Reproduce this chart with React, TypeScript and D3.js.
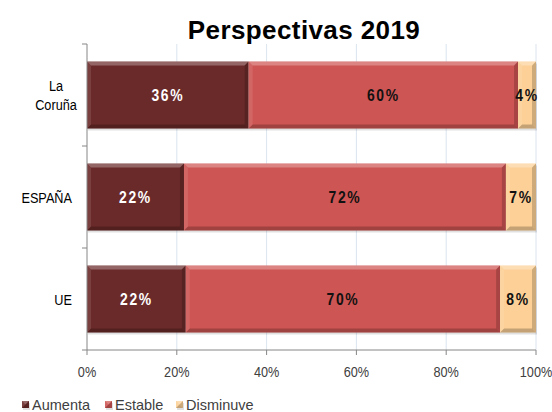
import React from "react";
import * as d3 from "d3";

// categories and series (shares of answers)
const categories = ["La Coruña", "ESPAÑA", "UE"];
const seriesNames = ["Aumenta", "Estable", "Disminuve"];
const aumenta = [0.36, 0.216, 0.22];
const estable = [0.6, 0.717, 0.7];
const disminuve = [0.04, 0.067, 0.08];
const xTicks = [0, 0.2, 0.4, 0.6, 0.8, 1];

const colors = ["#6b2a2a", "#cd5553", "#fcd096"];
const labelColors = ["#ffffff", "#111111", "#111111"];

const W = 552;
const H = 412;
const margin = { top: 44, right: 16, bottom: 62, left: 87 };
const sans = "'Liberation Sans', Arial, sans-serif";

// no narrow font installed, so squeeze Liberation Sans horizontally
const Narrow = ({ x, y, children, ...rest }: any) => (
  <text transform={`translate(${x},${y}) scale(0.82,1)`} fontFamily={sans} {...rest}>
    {children}
  </text>
);

const Bevel = ({ x, y, w, h, fill }: { x: number; y: number; w: number; h: number; fill: string }) => {
  const b = Math.min(4, w / 2);
  const pts = (a: number[][]) => a.map((p) => p.join(",")).join(" ");
  return (
    <g>
      <rect x={x + 1} y={y + 2} width={w} height={h} fill="#000" opacity={0.12} />
      <rect x={x} y={y} width={w} height={h} fill={fill} />
      <polygon points={pts([[x, y], [x + w, y], [x + w - b, y + b], [x + b, y + b]])} fill="#fff" opacity={0.28} />
      <polygon points={pts([[x, y + h], [x + w, y + h], [x + w - b, y + h - b], [x + b, y + h - b]])} fill="#000" opacity={0.22} />
      <polygon points={pts([[x, y], [x + b, y + b], [x + b, y + h - b], [x, y + h]])} fill="#fff" opacity={0.1} />
      <polygon points={pts([[x + w, y], [x + w - b, y + b], [x + w - b, y + h - b], [x + w, y + h]])} fill="#000" opacity={0.18} />
    </g>
  );
};

export default function App() {
  const innerW = W - margin.left - margin.right;
  const innerH = H - margin.top - margin.bottom;

  const x = d3.scaleLinear().domain([0, 1]).range([margin.left, margin.left + innerW]);
  const y = d3
    .scaleBand()
    .domain(categories)
    .range([margin.top, margin.top + innerH])
    .paddingInner(0.343)
    .paddingOuter(0.1715);

  const rows = categories.map((c, i) => ({
    category: c,
    Aumenta: aumenta[i],
    Estable: estable[i],
    Disminuve: disminuve[i],
  }));
  const stacked = d3.stack<any>().keys(seriesNames)(rows);
  const pct = d3.format(".0%");

  const bottom = margin.top + innerH;
  const step = y.step();
  const boundaries = d3.range(categories.length + 1).map((i) => margin.top + i * step);

  return (
    <svg width={W} height={H} style={{ position: "absolute", left: 0, top: 0, background: "#fff" }}>
      <text x={304} y={39} textAnchor="middle" fontFamily={sans} fontWeight="bold" fontSize={26} fill="#000" letterSpacing={0.4}>
        Perspectivas 2019
      </text>

      {/* gridlines */}
      {xTicks.slice(1).map((t) => (
        <line key={t} x1={x(t)} x2={x(t)} y1={margin.top} y2={bottom} stroke="#dbe4ef" strokeWidth={1} />
      ))}

      {/* bars */}
      {stacked.map((s, si) =>
        s.map((d, i) => (
          <Bevel
            key={si + "-" + i}
            x={x(d[0])}
            y={y(categories[i])!}
            w={x(d[1]) - x(d[0])}
            h={y.bandwidth()}
            fill={colors[si]}
          />
        ))
      )}

      {/* value labels */}
      {stacked.map((s, si) =>
        s.map((d, i) => (
          <Narrow
            key={"l" + si + "-" + i}
            x={(x(d[0]) + x(d[1])) / 2}
            y={y(categories[i])! + y.bandwidth() / 2}
            dy="0.36em"
            textAnchor="middle"
            fontWeight="bold"
            fontSize={17}
            letterSpacing={2}
            fill={labelColors[si]}
          >
            {pct(d[1] - d[0])}
          </Narrow>
        ))
      )}

      {/* axes */}
      <line x1={margin.left} x2={margin.left} y1={margin.top} y2={bottom} stroke="#868686" />
      {boundaries.map((b) => (
        <line key={b} x1={margin.left - 5} x2={margin.left} y1={b} y2={b} stroke="#868686" />
      ))}
      <line x1={margin.left} x2={x(1)} y1={bottom} y2={bottom} stroke="#868686" />
      {xTicks.map((t) => (
        <g key={"t" + t}>
          <line x1={x(t)} x2={x(t)} y1={bottom} y2={bottom + 5} stroke="#868686" />
          <Narrow x={x(t)} y={bottom + 27} textAnchor="middle" fontSize={15.5} fill="#404040">
            {pct(t)}
          </Narrow>
        </g>
      ))}

      {/* category labels */}
      {categories.map((c) => {
        const cy = y(c)! + y.bandwidth() / 2;
        const parts = c.split(" ");
        if (parts.length > 1) {
          return (
            <Narrow key={c} x={56} y={cy} textAnchor="middle" fontSize={15.5} fill="#000">
              <tspan x={0} dy="-0.25em">{parts[0]}</tspan>
              <tspan x={0} dy="1.2em">{parts.slice(1).join(" ")}</tspan>
            </Narrow>
          );
        }
        return (
          <Narrow key={c} x={72} y={cy} dy="0.36em" textAnchor="end" fontSize={15.5} fill="#000">
            {c}
          </Narrow>
        );
      })}

      {/* legend */}
      {seriesNames.map((n, i) => {
        const lx = [22, 105, 176][i];
        return (
          <g key={n} transform={`translate(${lx},405)`}>
            <Bevel x={0} y={-4} w={7} h={7} fill={colors[i]} />
            <text x={10} y={0} dy="0.36em" fontFamily={sans} fontSize={14.5} fill="#404040">
              {n}
            </text>
          </g>
        );
      })}
    </svg>
  );
}
